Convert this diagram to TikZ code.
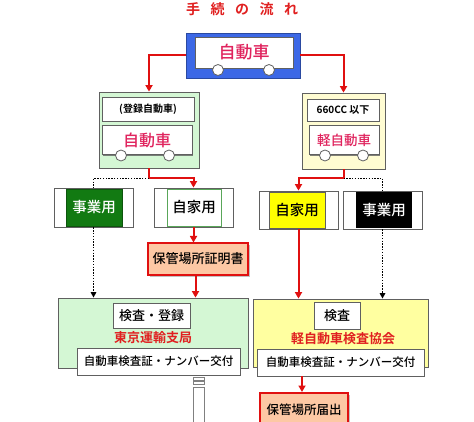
\documentclass[tikz,border=0pt]{standalone}
\usepackage{fontspec}
\setmainfont{Noto Sans CJK JP}[UprightFont={* Medium}, BoldFont={* Bold}]
\usetikzlibrary{arrows.meta,shadows}
\definecolor{lred}{HTML}{E01010}
\definecolor{crim}{HTML}{E0245E}
\definecolor{bgray}{HTML}{606060}
\definecolor{carblue}{HTML}{3C68E6}
\definecolor{lgreen}{HTML}{D4F7D4}
\definecolor{pyellow}{HTML}{FFFCD2}
\definecolor{byellow}{HTML}{FFFFA0}
\definecolor{peach}{HTML}{FDC8A4}
\definecolor{dgreen}{HTML}{127A12}
\definecolor{vyellow}{HTML}{FFFF00}
\definecolor{orgred}{HTML}{E02020}
\begin{document}
\begin{tikzpicture}[x=1pt,y=-1pt,
  box/.style={draw=bgray, line width=0.8pt, inner sep=0pt, rectangle},
  wheel/.style={circle, draw=bgray, line width=0.8pt, fill=white, minimum size=11pt, inner sep=0pt},
  carbox/.style={box, fill=white, line width=1pt, drop shadow={shadow xshift=1pt, shadow yshift=-1pt, fill=bgray, opacity=0.8}},
  permit/.style={box, draw=lred, line width=2pt, fill=peach, drop shadow={shadow xshift=2pt, shadow yshift=-2pt, fill=black!40, opacity=0.6}},
  redline/.style={draw=lred, line width=2pt},
  redarrow/.style={redline, -{Triangle[width=7pt,length=6.5pt]}},
  dotline/.style={draw=black, line width=1.4pt, dash pattern=on 1.5pt off 1.3pt},
  dotarrow/.style={dotline, -{Triangle[width=5.5pt,length=5.5pt]}},
  outerbox/.style={box, fill=white, minimum width=79pt, minimum height=39pt},
  innerbox/.style={rectangle, inner sep=0pt, minimum width=56pt, minimum height=37pt, font=\fontsize{14.5}{14.5}\selectfont}
]
\useasboundingbox (0,0) rectangle (474,422);
\clip (0,0) rectangle (474,422);

% title
\node[text=orgred, font=\bfseries\fontsize{14}{14}\selectfont] (title) at (242,9) {手\hspace{0.75em}続\hspace{0.75em}の\hspace{0.75em}流\hspace{0.75em}れ};

% top car
\node[box, fill=carblue, draw=carblue!70!black, minimum width=114pt, minimum height=45pt] (top) at (243,55.5) {};
\node[box, fill=white, draw=bgray, minimum width=98pt, minimum height=31pt, text=crim, font=\fontsize{17}{17}\selectfont] (topcar) at (244,52.5) {自動車};
\node[wheel] (tw1) at (218,70) {};
\node[wheel] (tw2) at (269,70) {};

% second level left
\node[box, fill=lgreen, minimum width=100pt, minimum height=76pt] (L2) at (149,130) {};
\node[box, fill=white, minimum width=92pt, minimum height=24pt, font=\bfseries\fontsize{10}{10}\selectfont] (L2lab) at (148,109) {(登録自動車)};
\node[carbox, minimum width=90pt, minimum height=29pt, text=crim, font=\fontsize{16}{16}\selectfont] (L2car) at (147,140.5) {自動車};
\node[wheel] (lw1) at (121,155.5) {};
\node[wheel] (lw2) at (169,155.5) {};

% second level right
\node[box, fill=pyellow, minimum width=83pt, minimum height=76pt] (R2) at (343.5,131) {};
\node[box, fill=white, minimum width=72pt, minimum height=22pt, font=\bfseries\fontsize{10}{10}\selectfont] (R2lab) at (343,110) {660CC 以下};
\node[carbox, minimum width=70pt, minimum height=29pt, text=crim, font=\fontsize{13.5}{13.5}\selectfont] (R2car) at (344,140.5) {軽自動車};
\node[wheel] (rw1) at (325,155.5) {};
\node[wheel] (rw2) at (363,155.5) {};

% third level
\node[outerbox] (L3a) at (93.5,207.5) {};
\node[innerbox, fill=dgreen, draw=dgreen!70!black, text=white] (L3ai) at (94,207.5) {事業用};
\node[outerbox] (L3b) at (193.5,207.5) {};
\node[innerbox, fill=white, draw=green!30!gray, line width=0.8pt, minimum width=54pt] (L3bi) at (194,207.5) {自家用};
\node[outerbox, minimum height=38pt] (R3a) at (298.5,210) {};
\node[innerbox, fill=vyellow, draw=bgray, line width=0.6pt, minimum height=36pt] (R3ai) at (297,210) {自家用};
\node[outerbox, minimum height=38pt] (R3b) at (382.5,210) {};
\node[innerbox, fill=black, text=white, minimum height=36pt] (R3bi) at (384,210) {事業用};

% permit certificate
\node[permit, minimum width=100pt, minimum height=31pt, font=\fontsize{13}{13}\selectfont] (cert) at (198,259) {保管場所証明書};

% bottom left
\node[box, fill=lgreen, minimum width=190pt, minimum height=70pt] (BL) at (153,333) {};
\node[box, fill=white, minimum width=77pt, minimum height=25pt, font=\fontsize{13}{13}\selectfont] (BLk) at (151.5,315.5) {検査・登録};
\node[text=orgred, font=\bfseries\fontsize{13}{13}\selectfont] (BLorg) at (153,338) {東京運輸支局};
\node[box, fill=white, minimum width=163pt, minimum height=27pt, font=\fontsize{11.5}{11.5}\selectfont] (BLw) at (158.5,361.5) {自動車検査証・ナンバー交付};

% bottom right
\node[box, fill=byellow, minimum width=175pt, minimum height=68pt] (BR) at (341,333) {};
\node[box, fill=white, minimum width=46pt, minimum height=27pt, font=\fontsize{13}{13}\selectfont] (BRk) at (337,315.5) {検査};
\node[text=orgred, font=\bfseries\fontsize{13}{13}\selectfont] (BRorg) at (343,339) {軽自動車検査協会};
\node[box, fill=white, minimum width=167pt, minimum height=27pt, font=\fontsize{11.5}{11.5}\selectfont] (BRw) at (340.5,362.5) {自動車検査証・ナンバー交付};

% storage notification
\node[permit, minimum width=88pt, minimum height=34pt, font=\fontsize{12.5}{12.5}\selectfont] (notif) at (304,410) {保管場所届出};

% post below left
\node[box, draw=gray, fill=white, minimum width=11pt, minimum height=3pt] (p1) at (199,378.5) {};
\node[box, draw=gray, fill=white, minimum width=11pt, minimum height=3pt] (p2) at (199,383) {};
\node[box, draw=gray, fill=white, minimum width=11pt, minimum height=40pt] (p3) at (199,407) {};

% connectors top
\draw[redarrow] (top.west) -| (L2.north);
\draw[redarrow] (top.east) -| (R2.north);

% connectors level 2 -> 3
\draw[redline] (L2.south) -- ++(0,10) coordinate (lj);
\draw[redarrow] (lj) -| (L3b.north);
\draw[dotline] (lj) -| (L3a.north);
\draw[redline] (R2.south) -- ++(0,9) coordinate (rj);
\draw[redarrow] (rj) -| (R3a.north);
\draw[dotline] (rj) -| (R3b.north);

% connectors level 3 -> 4
\draw[redarrow] (L3b.south) -- (L3b.south |- cert.north);
\draw[redarrow] (cert.south -| L3b.south) ++(2,0) coordinate (cs) -- (cs |- BL.north);
\draw[dotarrow] (L3a.south) -- (L3a.south |- BL.north);
\draw[redarrow] (R3a.south) -- (R3a.south |- BR.north);
\draw[dotarrow] (R3b.south) -- (R3b.south |- BR.north);

% to notification
\draw[redarrow] (notif.north |- BRw.south) ++(-2,0) coordinate (ns) -- (ns |- notif.north);
\end{tikzpicture}
\end{document}
